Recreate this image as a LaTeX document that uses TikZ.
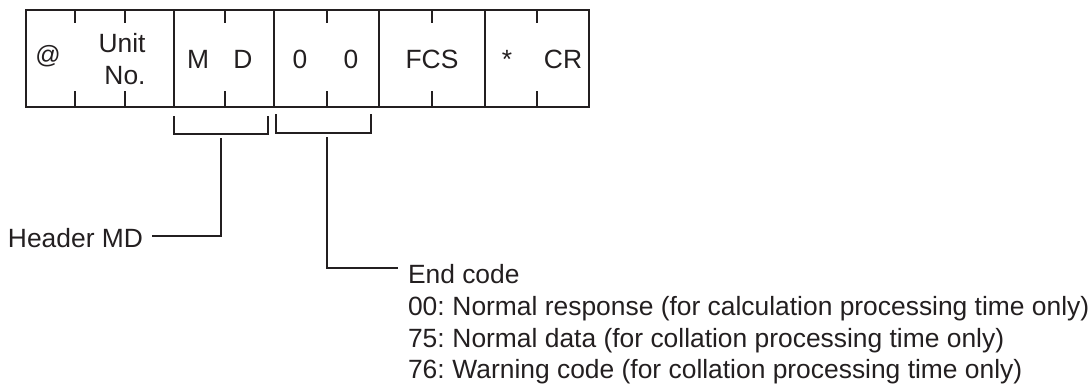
\documentclass[tikz,border=0pt]{standalone}
\usepackage{fontspec}
\setmainfont{Liberation Sans}
\definecolor{ink}{HTML}{231F20}
\begin{document}
\begin{tikzpicture}[x=1pt,y=-1pt,
  lbl/.style={font=\fontsize{26.4}{31}\selectfont, text=ink, inner sep=0pt, outer sep=0pt},
  small/.style={font=\fontsize{25}{30}\selectfont, text=ink, inner sep=0pt},
  rule/.style={draw=ink, line width=2pt},
  brk/.style={draw=ink, line width=1.8pt},
  frame/.style={draw=ink, line width=2pt, inner sep=0pt, minimum width=563pt, minimum height=97pt}]
\useasboundingbox (0,0) rectangle (1092,383);
% frame of the message
\node[frame] (frame) at (307.5,58.5) {};
% full dividers
\foreach \x in {174,274,379,485} \draw[rule] (\x,10) -- (\x,107);
% tick marks
\foreach \x in {75,125,225,327,432,537} {
  \draw[rule] (\x,10) -- (\x,23);
  \draw[rule] (\x,91) -- (\x,107);
}
% cell texts
\node[small, anchor=center] (at) at (48,56) {@};
\node[lbl, anchor=base] (unit) at (122,52) {Unit};
\node[lbl, anchor=base] (no) at (125,84) {No.};
\node[lbl, anchor=base] (m) at (198,68) {M};
\node[lbl, anchor=base] (d) at (243,68) {D};
\node[lbl, anchor=base] (z1) at (300,68) {0};
\node[lbl, anchor=base] (z2) at (351,68) {0};
\node[lbl, anchor=base] (fcs) at (432,68) {FCS};
\node[lbl, anchor=base] (ast) at (507,68) {*};
\node[lbl, anchor=base] (cr) at (563,68) {CR};
% brackets
\draw[brk] (174,116) -- (174,134) -- (268,134) -- (268,116);
\draw[brk] (276,114) -- (276,133) -- (371,133) -- (371,114);
\coordinate (brA) at (221,138);
\coordinate (brB) at (327,137);
% labels
\node[lbl, anchor=base west] (hdr) at (8,247) {Header MD};
\node[lbl, anchor=base west] (ec) at (408,283) {End code};
\node[lbl, anchor=base west] (l00) at (408,315) {00:\hspace{-2pt} Normal response (for calculation processing time only)};
\node[lbl, anchor=base west] (l75) at (408,347) {75:\hspace{-2pt} Normal data (for collation processing time only)};
\node[lbl, anchor=base west] (l76) at (408,378) {76:\hspace{-2pt} Warning code (for collation processing time only)};
% connectors
\draw[brk] (brA) |- ([xshift=9pt,yshift=1.5pt]hdr.east);
\draw[brk] (brB) |- ([xshift=-10pt,yshift=5.5pt]ec.west);
\end{tikzpicture}
\end{document}
